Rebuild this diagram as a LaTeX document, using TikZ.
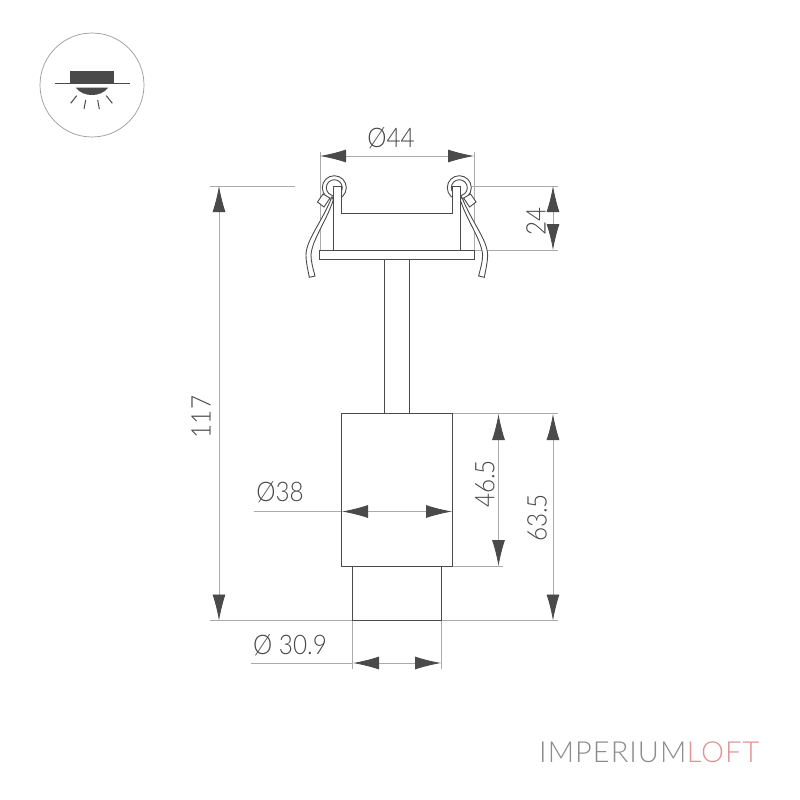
\documentclass[tikz,border=0pt]{standalone}
\usepackage{fontspec}
\setmainfont{Lato Light}
\newfontfamily\dimfont[FakeStretch=0.9]{Lato Light}
\newfontfamily\logofont[LetterSpace=3.5]{Lato Light}
\usetikzlibrary{arrows.meta}
\definecolor{partcol}{HTML}{4A4A4A}
\definecolor{dimcol}{HTML}{ABABAB}
\definecolor{textcol}{HTML}{484848}
\definecolor{logogrey}{HTML}{8C8C8C}
\definecolor{logopink}{HTML}{E29292}
\tikzset{
  partline/.style={draw=partcol,line width=0.9pt,fill=white},
  dimline/.style={dimcol,line width=0.8pt},
  dimarrow/.style={dimline,{Latex[length=26pt,width=13pt,color=partcol]}-{Latex[length=26pt,width=13pt,color=partcol]}},
  dimtext/.style={text=textcol,font=\dimfont\fontsize{27}{27}\selectfont,inner sep=0pt},
  logotext/.style={font=\logofont\fontsize{29}{29}\selectfont,inner sep=0pt,anchor=base west},
}
\begin{document}
\begin{tikzpicture}[x=1pt,y=-1pt]
        \useasboundingbox (0,0) rectangle (800,800);
        % icon
        \draw[gray!80,line width=0.7pt] (92,85) circle (52pt);
        \fill[partcol] (69.7,71) rectangle (114.3,83);
        \draw[partcol,line width=1.3pt] (54.7,83.5) -- (129.7,83.5);
        \fill[partcol] (75.7,87.7) .. controls (80,93) and (86,95) .. (92,95) .. controls (98,95) and (104,93) .. (108.3,87.7) -- cycle;
        \foreach \xa/\ya/\xb/\yb in {70.7/103.3/76.7/95.7,84/109/85.7/100,99.3/109/97.7/100,112.3/103.3/106.3/95.7}
            \draw[partcol,line width=1pt] (\xa,\ya) -- (\xb,\yb);
        % extension lines
        \draw[dimline] (320,152) -- (320,250);
        \draw[dimline] (474,152) -- (474,250);
        \draw[dimline] (210,186) -- (295,186);
        \draw[dimline] (472,186) -- (558,186);
        \draw[dimline] (474,250) -- (558,250);
        \draw[dimline] (452,413.5) -- (558,413.5);
        \draw[dimline] (441,566) -- (503,566);
        \draw[dimline] (210,620.5) -- (558,620.5);
        \draw[dimline] (352.5,620.5) -- (352.5,669);
        \draw[dimline] (441,620.5) -- (441,669);
        \draw[dimline] (251,663) -- (352.5,663);
        \draw[dimline] (254,511.5) -- (341,511.5);
        % clips
        \foreach \mirror in {0,1} {
            \begin{scope}[xshift=\mirror*793.6pt,xscale=1-2*\mirror]
                \draw[partline] (334.3,187.7) circle (12pt);
                \draw[partline] (334.3,187.7) circle (8pt);
                \draw[partline] (317.5,202) -- (323,194) -- (330,198) -- (324,207) -- cycle;
                \draw[partline] (332,196.7) .. controls (322,222) and (306,240) .. (306,255) .. controls (306,263) and (308,270) .. (309.3,277.3) -- (315,276) .. controls (313,268) and (311,262) .. (311,255) .. controls (312,240) and (326,222) .. (333.3,200) -- cycle;
            \end{scope}
        }
        % housing
        \draw[partline] (333.3,250) -- (333.3,186.5) -- (341,186.5) -- (341,213) -- (452.7,213) -- (452.7,186.5) -- (460.3,186.5) -- (460.3,250);
        \draw[partline] (319,250) rectangle (474,259);
        \draw[partline] (384,259) rectangle (409,413.5);
        \draw[partline] (341,413.5) rectangle (452.5,566);
        \draw[partline] (352.5,566) rectangle (441,620.5);
        % dimensions
        \draw[dimarrow] (320,156) -- (474,156);
        \draw[dimarrow] (342,511.5) -- (452,511.5);
        \draw[dimarrow] (353,663) -- (441,663);
        \draw[dimarrow] (219,186) -- (219,620.5);
        \draw[dimarrow] (498.5,414) -- (498.5,566);
        \draw[dimarrow] (553,414) -- (553,620.5);
        \draw[dimarrow] (553,186) -- (553,250);
        % labels
        \node[dimtext] (dia44) at (391,138) {Ø44};
        \node[dimtext] (dia38) at (280,492) {Ø38};
        \node[dimtext] (dia309) at (290,645) {Ø 30.9};
        \node[dimtext,rotate=90] (len117) at (201,417) {117};
        \node[dimtext,rotate=90] (len24) at (536,221) {24};
        \node[dimtext,rotate=90] (len465) at (485,484) {46.5};
        \node[dimtext,rotate=90] (len635) at (537,518) {63.5};
        % logo
        \node[logotext,text=logogrey] (logoa) at (539,762) {IMPERIUM};
        \node[logotext,text=logopink,anchor=base west] (logob) at (logoa.base east) {LOFT};
    \end{tikzpicture}
\end{document}
